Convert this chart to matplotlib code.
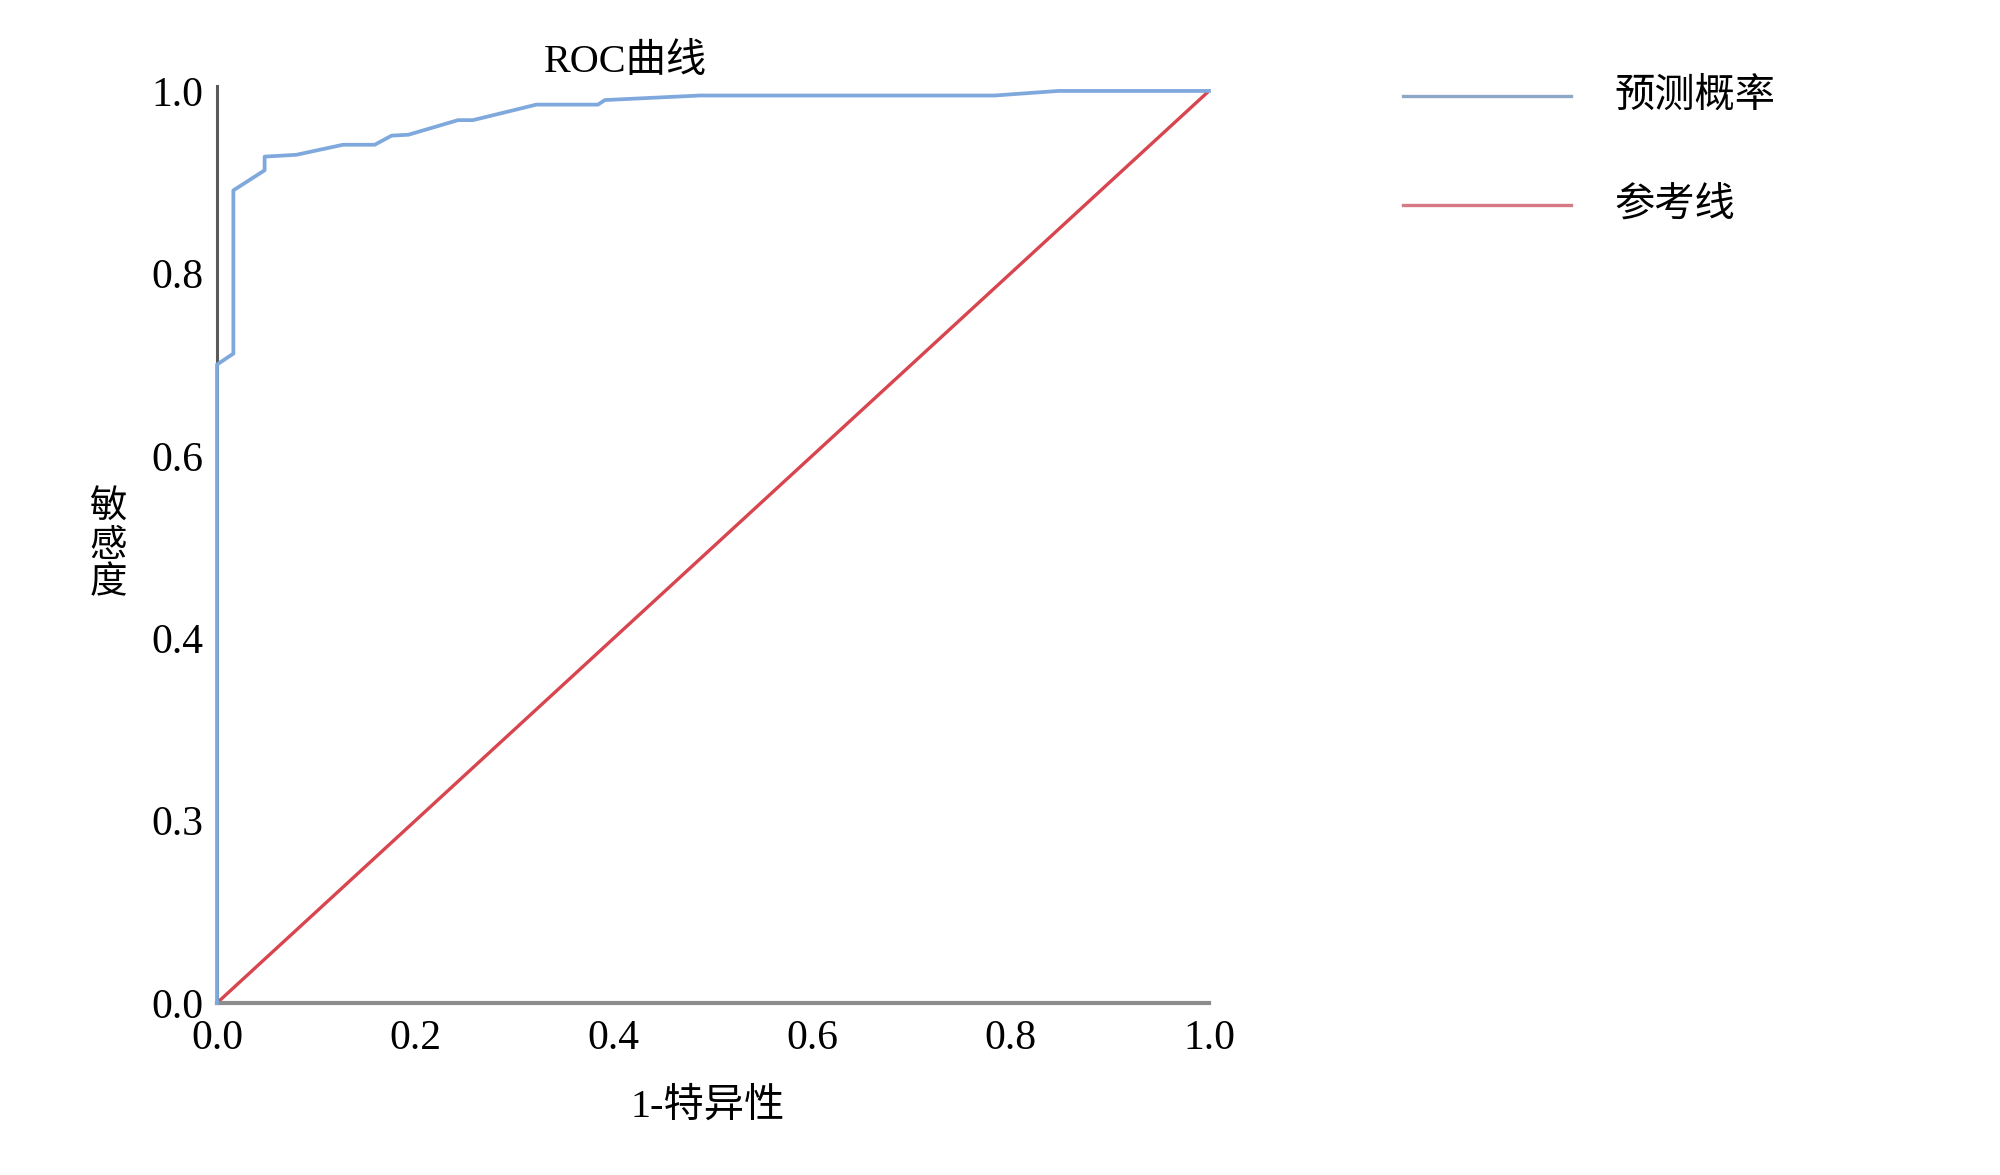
import matplotlib
matplotlib.use("Agg")
import matplotlib.pyplot as plt

plt.rcParams["font.family"] = ["Liberation Serif", "Noto Sans CJK SC"]

# ROC curve points
fpr = [0.0, 0.0, 0.0165, 0.0165, 0.048, 0.048, 0.080, 0.127, 0.159, 0.176,
       0.193, 0.243, 0.258, 0.322, 0.384, 0.391, 0.487, 0.784, 0.848, 1.0]
tpr = [0.0, 0.700, 0.712, 0.891, 0.913, 0.928, 0.930, 0.941, 0.941, 0.951,
       0.952, 0.968, 0.968, 0.985, 0.985, 0.990, 0.995, 0.995, 1.0, 1.0]
ref_x = [0.0, 1.0]
ref_y = [0.0, 1.0]

x_ticks = [0.0, 0.2, 0.4, 0.6, 0.8, 1.0]
x_labels = ["0.0", "0.2", "0.4", "0.6", "0.8", "1.0"]
y_ticks = [0.0, 0.2, 0.4, 0.6, 0.8, 1.0]
y_labels = ["0.0", "0.3", "0.4", "0.6", "0.8", "1.0"]  # as printed in the original

series_names = ["预测概率", "参考线"]

fig = plt.figure(figsize=(20, 11.75), dpi=100)
ax = fig.add_axes([0.1085, 0.1464, 0.496, 0.7762])

ax.plot(ref_x, ref_y, color="#d9454f", lw=2.4, zorder=2)
ax.plot(fpr, tpr, color="#7fa8dc", lw=2.7, zorder=3, clip_on=False)

ax.set_xlim(0, 1)
ax.set_ylim(0, 1)
ax.set_xticks(x_ticks)
ax.set_xticklabels(x_labels)
ax.set_yticks(y_ticks)
ax.set_yticklabels(y_labels)
ax.tick_params(length=0, labelsize=30)
ax.tick_params(axis="x", pad=12)
ax.tick_params(axis="y", pad=10)

for side in ["top", "right"]:
    ax.spines[side].set_visible(False)
ax.spines["left"].set_color("#5a5a5a")
ax.spines["left"].set_linewidth(2.2)
ax.spines["left"].set_bounds(0, 1.005)
ax.spines["bottom"].set_color("#8c8c8c")
ax.spines["bottom"].set_linewidth(3)

fig.text(0.3125, 0.947, "ROC曲线", ha="center", va="center", fontsize=29)
fig.text(0.354, 0.058, "1-特异性", ha="center", va="center", fontsize=29)
fig.text(0.054, 0.535, "敏\n感\n度", ha="center", va="center", fontsize=27,
         linespacing=1.12)

# legend drawn by hand to match the wide layout
leg_colors = ["#8fa7c6", "#d67a86"]
leg_y = [0.9185, 0.8255]
for name, col, yy in zip(series_names, leg_colors, leg_y):
    fig.add_artist(plt.Line2D([0.7015, 0.7855], [yy, yy], color=col, lw=2.4,
                              transform=fig.transFigure))
    fig.text(0.807, yy - 0.001, name, ha="left", va="center", fontsize=29)

fig.savefig("out.png", dpi=100)
